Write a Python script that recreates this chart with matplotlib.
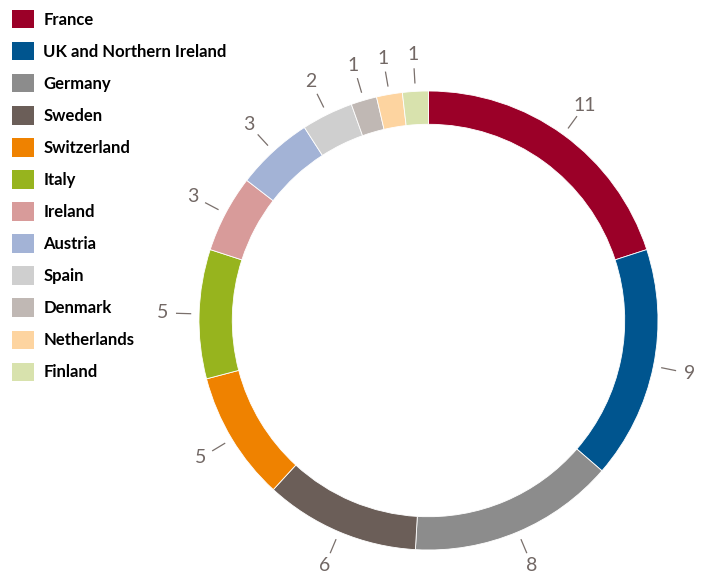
import numpy as np
import matplotlib
matplotlib.use("Agg")
from matplotlib import pyplot as plt
from matplotlib.patches import Patch

countries = ["France", "UK and Northern Ireland", "Germany", "Sweden", "Switzerland",
             "Italy", "Ireland", "Austria", "Spain", "Denmark", "Netherlands", "Finland"]
counts = [11, 9, 8, 6, 5, 5, 3, 3, 2, 1, 1, 1]
colors = ["#9b0028", "#00558f", "#8c8c8c", "#6b5e58", "#ef8200", "#97b41e",
          "#d89b9a", "#a3b3d6", "#cfcfcf", "#c0b8b4", "#fdd4a0", "#d8e2ad"]

W, H = 707, 575
fig = plt.figure(figsize=(W / 100, H / 100), dpi=100)

# donut: centre (428.5, 320.5) px, outer radius 229.5 px
cx, cy, R = 428.5, 320.5, 229.5
half = 300
ax = fig.add_axes([(cx - half) / W, (H - cy - half) / H, 2 * half / W, 2 * half / H])

wedges, _ = ax.pie(counts, colors=colors, startangle=90, counterclock=False, radius=1,
                   wedgeprops=dict(width=0.145, edgecolor="white", linewidth=0.6))
ax.set_xlim(-half / R, half / R)
ax.set_ylim(-half / R, half / R)
ax.axis("off")

total = sum(counts)
start = 0
for v in counts:
    mid = start + v / 2
    ang = np.deg2rad(90 - mid / total * 360)
    c, s = np.cos(ang), np.sin(ang)
    ax.plot([c * 238 / R, c * 252 / R], [s * 238 / R, s * 252 / R], color="#7a706c", lw=0.9)
    ax.text(c * 266 / R, s * 266 / R, str(v), ha="center", va="center", fontsize=14,
            color="#726865", family="Lato")
    start += v

handles = [Patch(facecolor=col, edgecolor="none") for col in colors]
fig.legend(handles, countries, loc="upper left", bbox_to_anchor=(12 / W, 1 - 10 / H),
           frameon=False, borderpad=0, borderaxespad=0, handlelength=1.32, handleheight=1.32,
           handletextpad=0.55, labelspacing=0.82,
           prop=dict(family="Lato", weight="bold", size=12))

fig.savefig("out.png", dpi=100)
